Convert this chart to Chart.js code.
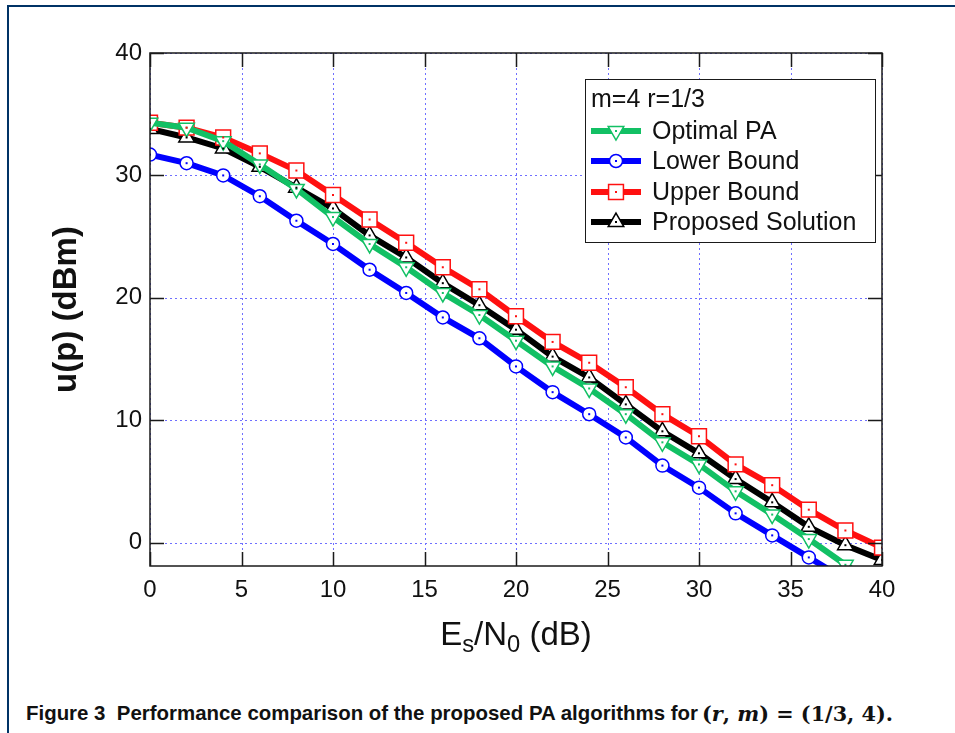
<!DOCTYPE html>
<html>
<head>
<meta charset="utf-8">
<script src="https://cdn.jsdelivr.net/npm/chart.js@4/dist/chart.umd.min.js"></script>
<style>
  html, body { margin: 0; padding: 0; background: #fff; }
  #frame { position: absolute; left: 7px; top: 5px; width: 960px; height: 740px;
           border-top: 2px solid #003366; border-left: 2px solid #003366; }
  #chart { position: absolute; left: 0; top: 0; }
  #xtitle { position: absolute; left: 316px; width: 400px; top: 617px; text-align: center;
            font: 33px Arial, "Liberation Sans", sans-serif; line-height: 33px; color: #111; }
  #xtitle sub { font-size: 0.72em; vertical-align: -0.28em; line-height: 0; }
  #caption { position: absolute; left: 26px; top: 701px; white-space: nowrap; line-height: 22px;
             color: #111; }
  #capText { display: inline-block; font: bold 21px "Liberation Sans Narrow", "Liberation Sans", Arial, sans-serif;
             transform-origin: 0 50%; }
  #capMath { position: absolute; top: 0; font: bold 21px "DejaVu Serif", "Liberation Serif", serif;
             transform-origin: 0 50%; white-space: nowrap; }
  #capMath i { font-style: italic; }
</style>
</head>
<body>
<div id="frame"></div>
<canvas id="chart" width="955" height="680"></canvas>
<div id="xtitle">E<sub>s</sub>/N<sub>0</sub> (dB)</div>
<div id="caption"><span id="capText">Figure 3&nbsp; Performance comparison of the proposed PA algorithms for</span><span id="capMath">(<i>r</i>, <i>m</i>) = (1/3, 4).</span></div>
<script>
// Es/N0 (dB)
const esN0 = [0, 2, 4, 6, 8, 10, 12, 14, 16, 18, 20, 22, 24, 26, 28, 30, 32, 34, 36, 38, 40];

// u(p) (dBm) per curve
const optimalPA = [34.3, 33.9, 32.8, 30.9, 28.9, 26.6, 24.4, 22.5, 20.4, 18.6, 16.5, 14.4, 12.6, 10.5, 8.2, 6.4, 4.2, 2.3, 0.3, -1.8, -3.7];
const lowerBound = [31.7, 31.0, 30.0, 28.3, 26.3, 24.4, 22.3, 20.4, 18.4, 16.7, 14.4, 12.3, 10.5, 8.6, 6.3, 4.5, 2.4, 0.6, -1.2, -3.0, null];
const upperBound = [34.3, 33.9, 33.1, 31.8, 30.4, 28.4, 26.4, 24.5, 22.5, 20.7, 18.5, 16.4, 14.7, 12.7, 10.5, 8.7, 6.4, 4.7, 2.7, 1.0, -0.4];
const proposed = [33.8, 33.1, 32.2, 30.7, 29.0, 27.3, 25.1, 23.3, 21.2, 19.4, 17.4, 15.2, 13.5, 11.3, 9.1, 7.3, 5.2, 3.3, 1.3, -0.2, -1.4];

const xTicks = [0, 5, 10, 15, 20, 25, 30, 35, 40];
const yTicks = [0, 10, 20, 30, 40];

const legendTitle = "m=4 r=1/3";
const seriesNames = ["Optimal PA", "Lower Bound", "Upper Bound", "Proposed Solution"];

const GREEN = "#12c064";
const BLUE = "#0000ff";
const RED = "#ff1010";
const BLACK = "#000000";

function series(label, values, color, style, radius, rotation) {
  return {
    label: label,
    data: esN0.map((x, i) => ({ x: x, y: values[i] })),
    borderColor: color,
    backgroundColor: color,
    borderWidth: 6,
    pointStyle: style,
    pointRadius: radius,
    pointRotation: rotation || 0,
    pointBackgroundColor: "#ffffff",
    pointBorderColor: color,
    pointBorderWidth: 1.5,
    tension: 0,
    spanGaps: false,
  };
}

function drawMarker(ctx, style, x, y, r, rot, color) {
  ctx.save();
  ctx.translate(x, y);
  ctx.rotate(rot * Math.PI / 180);
  ctx.beginPath();
  if (style === "circle") {
    ctx.arc(0, 0, r, 0, Math.PI * 2);
  } else if (style === "rect") {
    const s = r * Math.SQRT1_2;
    ctx.rect(-s, -s, 2 * s, 2 * s);
  } else {
    ctx.moveTo(0, -r);
    ctx.lineTo(r * Math.sin(Math.PI / 3), r / 2);
    ctx.lineTo(-r * Math.sin(Math.PI / 3), r / 2);
    ctx.closePath();
  }
  ctx.fillStyle = "#ffffff";
  ctx.fill();
  ctx.lineWidth = 1.5;
  ctx.strokeStyle = color;
  ctx.stroke();
  ctx.restore();
  ctx.fillStyle = color;
  ctx.fillRect(x - 1, y - 1, 2, 2);
}

const boxPlugin = {
  id: "boxPlugin",
  beforeDatasetsDraw(chart) {
    const { ctx, chartArea: a, scales: { x, y } } = chart;
    ctx.save();
    ctx.strokeStyle = "#6f6fff";
    ctx.lineWidth = 1;
    ctx.setLineDash([2, 3]);
    xTicks.forEach((v) => {
      const px = Math.round(x.getPixelForValue(v)) + 0.5;
      ctx.beginPath(); ctx.moveTo(px, a.top); ctx.lineTo(px, a.bottom); ctx.stroke();
    });
    yTicks.forEach((v) => {
      const py = Math.round(y.getPixelForValue(v)) + 0.5;
      ctx.beginPath(); ctx.moveTo(a.left, py); ctx.lineTo(a.right, py); ctx.stroke();
    });
    ctx.restore();
  },
  afterDatasetsDraw(chart) {
    const { ctx, chartArea: a, scales: { x, y } } = chart;
    // centre dots of markers
    ctx.save();
    ctx.beginPath();
    ctx.rect(a.left, a.top, a.right - a.left, a.bottom - a.top);
    ctx.clip();
    chart.data.datasets.forEach((ds, i) => {
      chart.getDatasetMeta(i).data.forEach((pt) => {
        if (pt.skip) return;
        ctx.fillStyle = ds.borderColor;
        ctx.fillRect(pt.x - 1, pt.y - 1, 2, 2);
      });
    });
    ctx.restore();

    // axes box and inward ticks
    ctx.save();
    ctx.strokeStyle = "#1a1a1a";
    ctx.lineWidth = 1.5;
    ctx.strokeRect(a.left, a.top, a.right - a.left, a.bottom - a.top);
    const tl = 14;
    ctx.beginPath();
    xTicks.forEach((v) => {
      const px = Math.round(x.getPixelForValue(v)) + 0.5;
      ctx.moveTo(px, a.bottom); ctx.lineTo(px, a.bottom - tl);
      ctx.moveTo(px, a.top); ctx.lineTo(px, a.top + tl);
    });
    yTicks.forEach((v) => {
      const py = Math.round(y.getPixelForValue(v)) + 0.5;
      ctx.moveTo(a.left, py); ctx.lineTo(a.left + tl, py);
      ctx.moveTo(a.right, py); ctx.lineTo(a.right - tl, py);
    });
    ctx.stroke();
    ctx.restore();

    // legend box
    const lx = 585, ly = 79, lw = 290, lh = 163;
    ctx.save();
    ctx.fillStyle = "#ffffff";
    ctx.fillRect(lx, ly, lw, lh);
    ctx.strokeStyle = "#1a1a1a";
    ctx.lineWidth = 1;
    ctx.strokeRect(lx + 0.5, ly + 0.5, lw, lh);
    ctx.fillStyle = "#111";
    ctx.font = "25px Arial, 'Liberation Sans', sans-serif";
    ctx.textBaseline = "middle";
    ctx.fillText(legendTitle, 591, 100);
    const rows = [131, 161, 192, 222];
    chart.data.datasets.forEach((ds, i) => {
      const ry = rows[i];
      ctx.strokeStyle = ds.borderColor;
      ctx.lineWidth = 6;
      ctx.beginPath(); ctx.moveTo(591, ry); ctx.lineTo(641, ry); ctx.stroke();
      drawMarker(ctx, ds.pointStyle, 616, ry, ds.pointRadius, ds.pointRotation, ds.borderColor);
      ctx.fillStyle = "#111";
      ctx.fillText(seriesNames[i], 652, ry + 1);
    });
    ctx.restore();
  },
};

const chart = new Chart(document.getElementById("chart").getContext("2d"), {
  type: "line",
  data: {
    datasets: [
      series(seriesNames[0], optimalPA, GREEN, "triangle", 9, 180),
      series(seriesNames[1], lowerBound, BLUE, "circle", 6.5),
      series(seriesNames[2], upperBound, RED, "rect", 10.5),
      series(seriesNames[3], proposed, BLACK, "triangle", 9),
    ],
  },
  options: {
    responsive: false,
    animation: false,
    layout: { padding: { left: 0, right: 73, top: 53, bottom: 14 } },
    plugins: { legend: { display: false }, tooltip: { enabled: false } },
    scales: {
      x: {
        type: "linear",
        min: 0,
        max: 40,
        afterBuildTicks: (s) => { s.ticks = xTicks.map((v) => ({ value: v })); },
        afterFit: (s) => { s.height = 100; },
        ticks: { font: { family: "Arial, 'Liberation Sans', sans-serif", size: 24 }, color: "#111", padding: 10, maxRotation: 0 },
        grid: { display: false, drawTicks: false },
        border: { display: false },
      },
      y: {
        type: "linear",
        min: -1.9,
        max: 40,
        afterBuildTicks: (s) => { s.ticks = yTicks.map((v) => ({ value: v })); },
        afterFit: (s) => { s.width = 150; },
        ticks: { font: { family: "Arial, 'Liberation Sans', sans-serif", size: 24 }, color: "#111", padding: 8 },
        grid: { display: false, drawTicks: false },
        border: { display: false },
        title: {
          display: true,
          text: "u(p) (dBm)",
          font: { family: "Arial, 'Liberation Sans', sans-serif", size: 33, weight: "bold" },
          color: "#111",
          padding: { top: 47, bottom: 0 },
        },
      },
    },
  },
  plugins: [boxPlugin],
});

// fit caption pieces to the reference widths
const capText = document.getElementById("capText");
const capMath = document.getElementById("capMath");
const tw = capText.getBoundingClientRect().width;
capText.style.transform = "scaleX(" + (672 / tw) + ")";
capMath.style.left = "676px";
const mw = capMath.getBoundingClientRect().width;
capMath.style.transform = "scaleX(" + (191 / mw) + ")";
</script>
</body>
</html>
